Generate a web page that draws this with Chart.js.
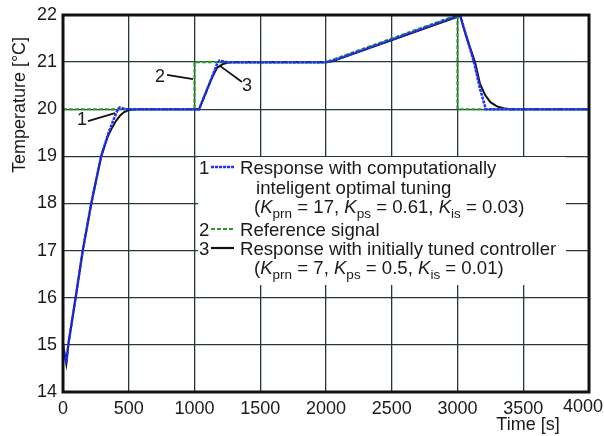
<!DOCTYPE html>
<html>
<head>
<meta charset="utf-8">
<script src="https://cdn.jsdelivr.net/npm/chart.js@4.4.0/dist/chart.umd.min.js"></script>
<style>
  html, body { margin: 0; padding: 0; background: #ffffff; }
  #c { display: block; }
</style>
</head>
<body>
<canvas id="c" width="604" height="436"></canvas>
<script>
// ---- data ----
const xTickValues = [0, 500, 1000, 1500, 2000, 2500, 3000, 3500, 4000];
const yTickValues = [14, 15, 16, 17, 18, 19, 20, 21, 22];

// 2: reference signal
const timeRef = [0, 1000, 1000, 2000, 3000, 3000, 4000];
const tempRef = [20, 20, 21, 21, 22, 20, 20];

// 1: response with computationally intelligent optimal tuning
const timeOpt = [0, 25, 40, 96, 150, 215, 290, 340, 380, 405, 418, 432, 455, 480, 1000, 1035, 1100, 1170, 1190, 1215, 1250, 2000, 2050, 3000, 3020, 3060, 3125, 3170, 3215, 4000];
const tempOpt = [15.0, 14.6, 15.0, 16.0, 17.0, 18.0, 19.0, 19.45, 19.75, 19.92, 20.0, 20.04, 20.02, 20.0, 20.0, 20.0, 20.45, 20.95, 21.03, 21.02, 21.0, 21.0, 21.03, 21.98, 22.0, 21.62, 21.0, 20.45, 20.0, 20.0];

// 3: response with initially tuned controller
const timeInit = [0, 25, 40, 96, 150, 215, 290, 340, 375, 405, 435, 465, 500, 550, 1000, 1035, 1100, 1135, 1171, 1217, 1250, 1293, 2000, 2050, 2100, 3000, 3020, 3060, 3133, 3170, 3210, 3250, 3300, 3350, 3400, 4000];
const tempInit = [15.0, 14.6, 15.0, 16.0, 17.0, 18.0, 19.0, 19.42, 19.62, 19.76, 19.87, 19.94, 19.98, 20.0, 20.0, 20.0, 20.45, 20.68, 20.88, 20.96, 20.985, 21.0, 21.0, 21.02, 21.07, 21.96, 21.99, 21.6, 21.0, 20.55, 20.3, 20.15, 20.06, 20.02, 20.0, 20.0];

// numbered callouts (anchor positions in data units)
const callouts = [
  { txt: '1', at: [144, 19.77], from: [190, 19.75], to: [395, 19.92] },
  { txt: '2', at: [738, 20.68], from: [791, 20.73], to: [989, 20.64] },
  { txt: '3', at: [1399, 20.49], from: [1361, 20.58], to: [1194, 20.92] }
];

const FONT = '"Liberation Sans", Arial, Helvetica, sans-serif';
const TXT = '#1a1a1a';
const BLUE = '#1f2fff';
const GREEN = '#2a9a2a';
const BLACK = '#111111';
const GRID = '#243838';
const LF = 18.6;

function pts(ts, vs) { return ts.map((t, i) => ({ x: t, y: vs[i] })); }

function drawRich(ctx, parts, x, y) {
  let cx = x;
  for (const p of parts) {
    let font, dy = 0;
    if (p.s === 'i') font = 'italic ' + LF + 'px ' + FONT;
    else if (p.s === 'sub') { font = '13.5px ' + FONT; dy = 5; }
    else font = LF + 'px ' + FONT;
    ctx.font = font;
    ctx.fillText(p.t, cx, y + dy);
    cx += ctx.measureText(p.t).width;
  }
}

const overlay = {
  id: 'overlay',
  beforeDatasetsDraw(chart) {
    const ctx = chart.ctx;
    ctx.save();
    ctx.fillStyle = '#ffffff';
    ctx.fillRect(198, 157, 368, 128);
    ctx.restore();
  },
  afterDraw(chart) {
    const ctx = chart.ctx;
    const a = chart.chartArea;
    const xs = chart.scales.x, ys = chart.scales.y;
    ctx.save();
    ctx.strokeStyle = BLACK;
    ctx.lineWidth = 3;
    ctx.strokeRect(a.left, a.top, a.right - a.left, a.bottom - a.top);

    ctx.fillStyle = TXT;
    ctx.font = '18px ' + FONT;
    ctx.textAlign = 'right';
    ctx.textBaseline = 'top';
    ctx.fillText('4000', xs.getPixelForValue(4000) + 14, a.bottom + 6);

    ctx.textAlign = 'center';
    ctx.textBaseline = 'middle';
    ctx.fillText('Time [s]', 528, 425);
    ctx.save();
    ctx.translate(20, 105);
    ctx.rotate(-Math.PI / 2);
    ctx.fillText('Temperature [°C]', 0, 0);
    ctx.restore();

    ctx.strokeStyle = BLACK;
    ctx.lineWidth = 1.8;
    for (const c of callouts) {
      ctx.beginPath();
      ctx.moveTo(xs.getPixelForValue(c.from[0]), ys.getPixelForValue(c.from[1]));
      ctx.lineTo(xs.getPixelForValue(c.to[0]), ys.getPixelForValue(c.to[1]));
      ctx.stroke();
      ctx.fillText(c.txt, xs.getPixelForValue(c.at[0]), ys.getPixelForValue(c.at[1]));
    }

    ctx.textAlign = 'left';
    ctx.textBaseline = 'alphabetic';
    const rows = [
      { y: 174, num: '1', color: BLUE, dash: [3, 1], w: 2.5, parts: [{ t: 'Response with computationally' }] },
      { y: 194, parts: [{ t: 'inteligent optimal tuning' }], indent: 256 },
      { y: 213, indent: 254, parts: [{ t: '(' }, { t: 'K', s: 'i' }, { t: 'prn', s: 'sub' }, { t: ' = 17, ' }, { t: 'K', s: 'i' }, { t: 'ps', s: 'sub' }, { t: ' = 0.61, ' }, { t: 'K', s: 'i' }, { t: 'is', s: 'sub' }, { t: ' = 0.03)' }] },
      { y: 236, num: '2', color: GREEN, dash: [4, 2], w: 2.2, parts: [{ t: 'Reference signal' }] },
      { y: 255, num: '3', color: BLACK, dash: [], w: 2.2, parts: [{ t: 'Response with initially tuned controller' }] },
      { y: 274, indent: 254, parts: [{ t: '(' }, { t: 'K', s: 'i' }, { t: 'prn', s: 'sub' }, { t: ' = 7, ' }, { t: 'K', s: 'i' }, { t: 'ps', s: 'sub' }, { t: ' = 0.5, ' }, { t: 'K', s: 'i' }, { t: 'is', s: 'sub' }, { t: ' = 0.01)' }] }
    ];
    for (const r of rows) {
      ctx.fillStyle = TXT;
      if (r.num) {
        ctx.font = LF + 'px ' + FONT;
        ctx.fillText(r.num, 199, r.y);
        ctx.save();
        ctx.strokeStyle = r.color;
        ctx.lineWidth = r.w;
        ctx.setLineDash(r.dash);
        ctx.beginPath();
        ctx.moveTo(211, r.y - 7);
        ctx.lineTo(234, r.y - 7);
        ctx.stroke();
        ctx.restore();
      }
      drawRich(ctx, r.parts, r.indent || 240, r.y);
    }
    ctx.restore();
  }
};

new Chart(document.getElementById('c'), {
  type: 'line',
  data: {
    datasets: [
      { label: '1', data: pts(timeOpt, tempOpt), borderColor: BLUE, borderWidth: 2.5, borderDash: [3, 1], pointRadius: 0, fill: false, tension: 0 },
      { label: '2', data: pts(timeRef, tempRef), borderColor: GREEN, borderWidth: 2.2, borderDash: [4, 2], pointRadius: 0, fill: false, tension: 0 },
      { label: '3', data: pts(timeInit, tempInit), borderColor: BLACK, borderWidth: 2, pointRadius: 0, fill: false, tension: 0 }
    ]
  },
  options: {
    responsive: false,
    animation: false,
    layout: { padding: { top: 15, right: 15, left: 0, bottom: 0 } },
    plugins: { legend: { display: false }, tooltip: { enabled: false }, title: { display: false } },
    scales: {
      x: {
        type: 'linear', min: 0, max: 4000,
        afterBuildTicks: s => { s.ticks = xTickValues.map(v => ({ value: v })); },
        afterFit: s => { s.height = 44; s.paddingLeft = 0; s.paddingRight = 0; },
        ticks: { color: TXT, font: { family: FONT, size: 18 }, padding: 6, maxRotation: 0, autoSkip: false,
                 callback: v => (v === 4000 ? '' : String(v)) },
        grid: { color: GRID, lineWidth: 1.3, drawTicks: false },
        border: { display: false }
      },
      y: {
        type: 'linear', min: 14, max: 22,
        afterBuildTicks: s => { s.ticks = yTickValues.map(v => ({ value: v })); },
        afterFit: s => { s.width = 63; s.paddingTop = 0; s.paddingBottom = 0; },
        ticks: { color: TXT, font: { family: FONT, size: 18 }, padding: 6 },
        grid: { color: GRID, lineWidth: 1.3, drawTicks: false },
        border: { display: false }
      }
    }
  },
  plugins: [overlay]
});
</script>
</body>
</html>
